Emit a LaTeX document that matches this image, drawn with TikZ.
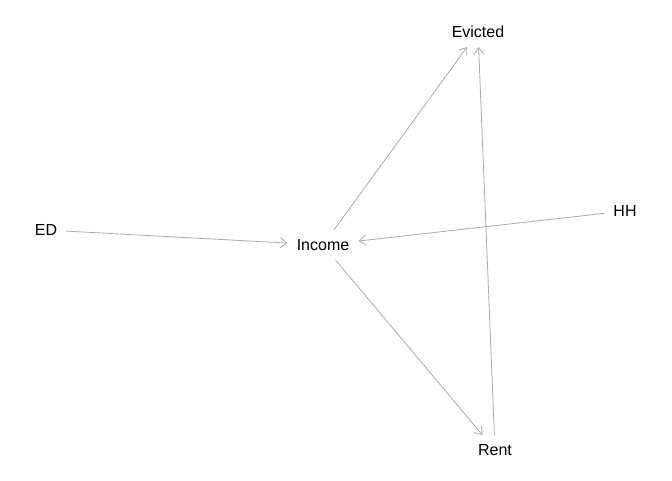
\documentclass[tikz,border=0pt]{standalone}
\usepackage{fontspec}
\setmainfont{Liberation Sans}
\usetikzlibrary{arrows.meta}
\begin{document}
\begin{tikzpicture}[x=0.75pt,y=-0.75pt,
  var/.style={inner xsep=6.75pt, inner ysep=6.75pt, text height=8.6pt, text depth=0pt,
    font=\fontsize{12pt}{14pt}\selectfont, text=black},
  edge/.style={draw=black!33, line width=0.6pt, -{Straight Barb[length=5pt,width=7.5pt,line width=0.6pt]}}]
\useasboundingbox (0,0) rectangle (672,480);
\node[var] (evicted) at (478,32) {Evicted};
\node[var] (ed) at (46,230) {ED};
\node[var] (income) at (323,245) {Income};
\node[var] (hh) at (625,211) {HH};
\node[var] (rent) at (495,450) {Rent};
\draw[edge] (ed) -- (income);
\draw[edge] (hh) -- (income);
\draw[edge] (income) -- (evicted);
\draw[edge] (income) -- (rent);
\draw[edge] (rent) -- (evicted);
\end{tikzpicture}
\end{document}
